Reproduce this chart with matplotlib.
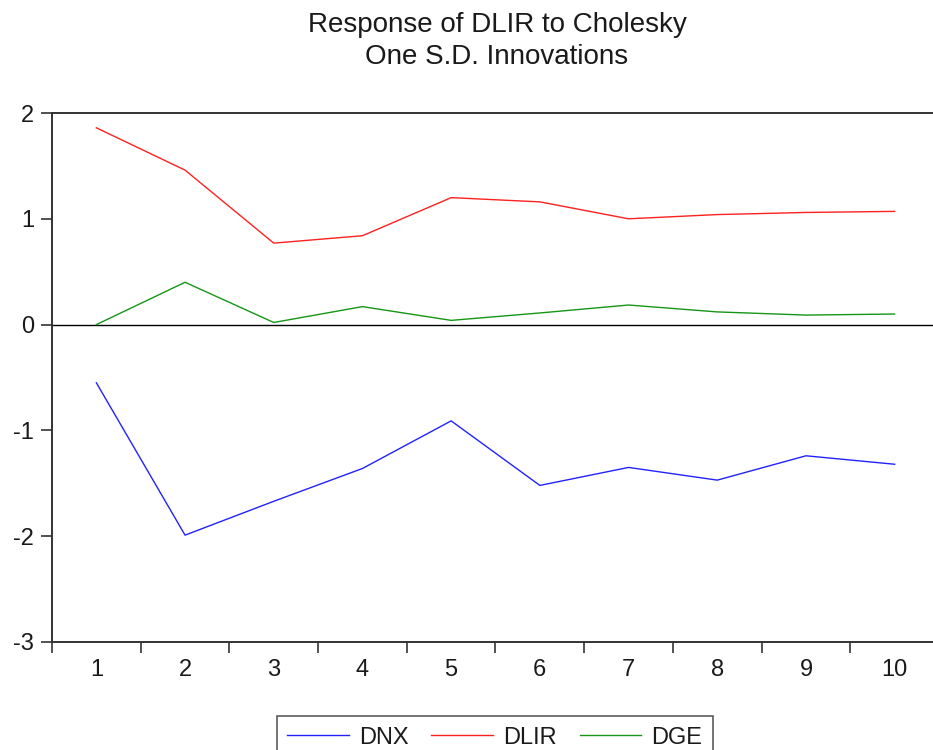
import matplotlib.pyplot as plt
import numpy as np

plt.rcParams['font.family'] = ['Liberation Sans', 'DejaVu Sans']

periods = [1, 2, 3, 4, 5, 6, 7, 8, 9, 10]
dnx = [-0.55, -1.99, -1.67, -1.36, -0.91, -1.52, -1.35, -1.47, -1.24, -1.32]
dlir = [1.86, 1.46, 0.77, 0.84, 1.20, 1.16, 1.00, 1.04, 1.06, 1.07]
dge = [0.00, 0.40, 0.02, 0.17, 0.04, 0.11, 0.185, 0.12, 0.09, 0.10]

W, H = 933, 750
fig = plt.figure(figsize=(W / 100, H / 100), dpi=100)
# axes box runs a little past the right edge of the picture
ax = fig.add_axes([52 / W, (H - 642) / H, 887 / W, 529 / H])

ax.axhline(0, color='black', lw=1.0, zorder=1)
ax.plot(periods, dnx, color='#2222ff', lw=1.0, label='DNX')
ax.plot(periods, dlir, color='#ff2020', lw=1.0, label='DLIR')
ax.plot(periods, dge, color='#169616', lw=1.0, label='DGE')

ax.set_xlim(0.5, 10.5)
ax.set_ylim(-3, 2)
ax.set_yticks([-3, -2, -1, 0, 1, 2])
ax.set_yticklabels(['-3', '-2', '-1', '0', '1', '2'])
ax.set_xticks(periods)
ax.set_xticks(np.arange(0.5, 11, 1.0), minor=True)

for s in ax.spines.values():
    s.set_color('#333333')
    s.set_linewidth(1.4)

ax.tick_params(axis='x', which='major', length=0, pad=12, labelsize=17, labelcolor='#1a1a1a')
ax.tick_params(axis='x', which='minor', length=8, width=1.2, color='#333333', direction='out')
ax.tick_params(axis='y', length=8, width=1.2, color='#333333', pad=5, labelsize=17, labelcolor='#1a1a1a')

fig.text(497 / W, 1 - 41 / H, 'Response of DLIR to Cholesky\nOne S.D. Innovations',
         ha='center', va='center', fontsize=20, color='#1a1a1a', linespacing=1.3)

leg = fig.legend(loc='upper center', bbox_to_anchor=(495 / W, 1 - 716 / H), ncol=3,
                 fontsize=17, frameon=True, fancybox=False, handlelength=2.6,
                 handletextpad=0.45, columnspacing=0.95, borderpad=0.45,
                 borderaxespad=0, edgecolor='#333333')
leg.get_frame().set_linewidth(1.2)
for t in leg.get_texts():
    t.set_color('#1a1a1a')

fig.savefig('out.png', dpi=100)
